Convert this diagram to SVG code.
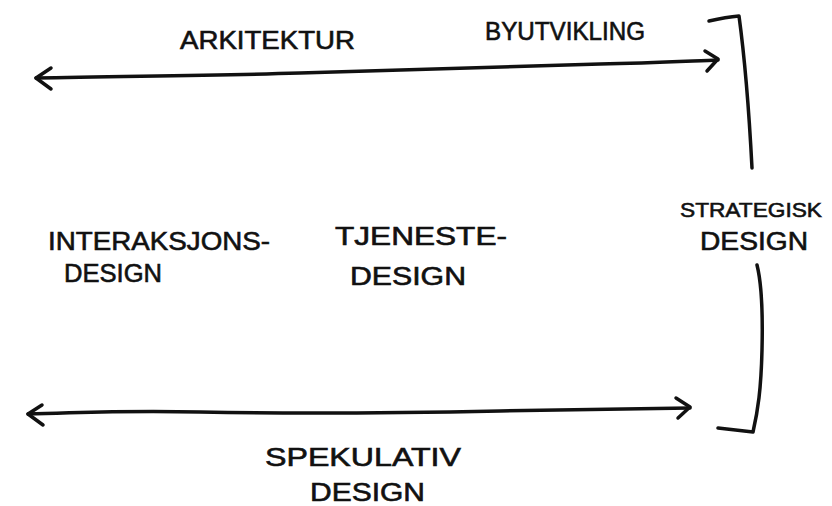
<svg xmlns="http://www.w3.org/2000/svg" width="832" height="506" viewBox="0 0 832 506">
<style>
.t{font-family:"Liberation Sans","DejaVu Sans",sans-serif;font-size:25px;fill:#111;stroke:#111;stroke-width:0.6}
.s{font-size:21px}
.ln{fill:none;stroke:#111;stroke-width:3.5;stroke-linecap:round;stroke-linejoin:round}
</style>
<rect width="832" height="506" fill="#fff"/>
<g id="connectors">
<path class="ln" d="M36,78 C120,76 200,76 300,73 C420,70 520,67 600,64 C650,63 690,61 718,60"/>
<path class="ln" d="M51,68 L36,78 L51,89"/>
<path class="ln" d="M705,51 L718,59 L707,71"/>
<path class="ln" d="M28,414 C80,413 120,410 200,412 C300,414 400,413 500,411 C600,410 650,409 690,408"/>
<path class="ln" d="M42,405 L28,414 L43,425"/>
<path class="ln" d="M676,398 L690,407 L678,418"/>
<path class="ln" d="M709,21 C718,19 728,17 739,16 C745,60 749,110 752,168"/>
<path class="ln" d="M757,265 C762,285 763,310 762,350 C761,390 758,410 753,432 L718,428"/>
</g>
<g id="arkitektur"><text class="t" x="180" y="49" textLength="175" lengthAdjust="spacingAndGlyphs">ARKITEKTUR</text></g>
<g id="byutvikling"><text class="t" x="485" y="40" textLength="160" lengthAdjust="spacingAndGlyphs">BYUTVIKLING</text></g>
<g id="interaksjonsdesign">
<text class="t" x="48" y="250" textLength="222" lengthAdjust="spacingAndGlyphs">INTERAKSJONS-</text>
<text class="t" x="64" y="282" textLength="98" lengthAdjust="spacingAndGlyphs">DESIGN</text>
</g>
<g id="tjenestedesign">
<text class="t" x="335" y="245" textLength="172" lengthAdjust="spacingAndGlyphs">TJENESTE-</text>
<text class="t" x="350" y="285" textLength="116" lengthAdjust="spacingAndGlyphs">DESIGN</text>
</g>
<g id="strategiskdesign">
<text class="t s" x="680" y="217" textLength="142" lengthAdjust="spacingAndGlyphs">STRATEGISK</text>
<text class="t" x="700" y="250" textLength="108" lengthAdjust="spacingAndGlyphs">DESIGN</text>
</g>
<g id="spekulativdesign">
<text class="t" x="265" y="466" textLength="196" lengthAdjust="spacingAndGlyphs">SPEKULATIV</text>
<text class="t" x="310" y="501" textLength="115" lengthAdjust="spacingAndGlyphs">DESIGN</text>
</g>
</svg>
